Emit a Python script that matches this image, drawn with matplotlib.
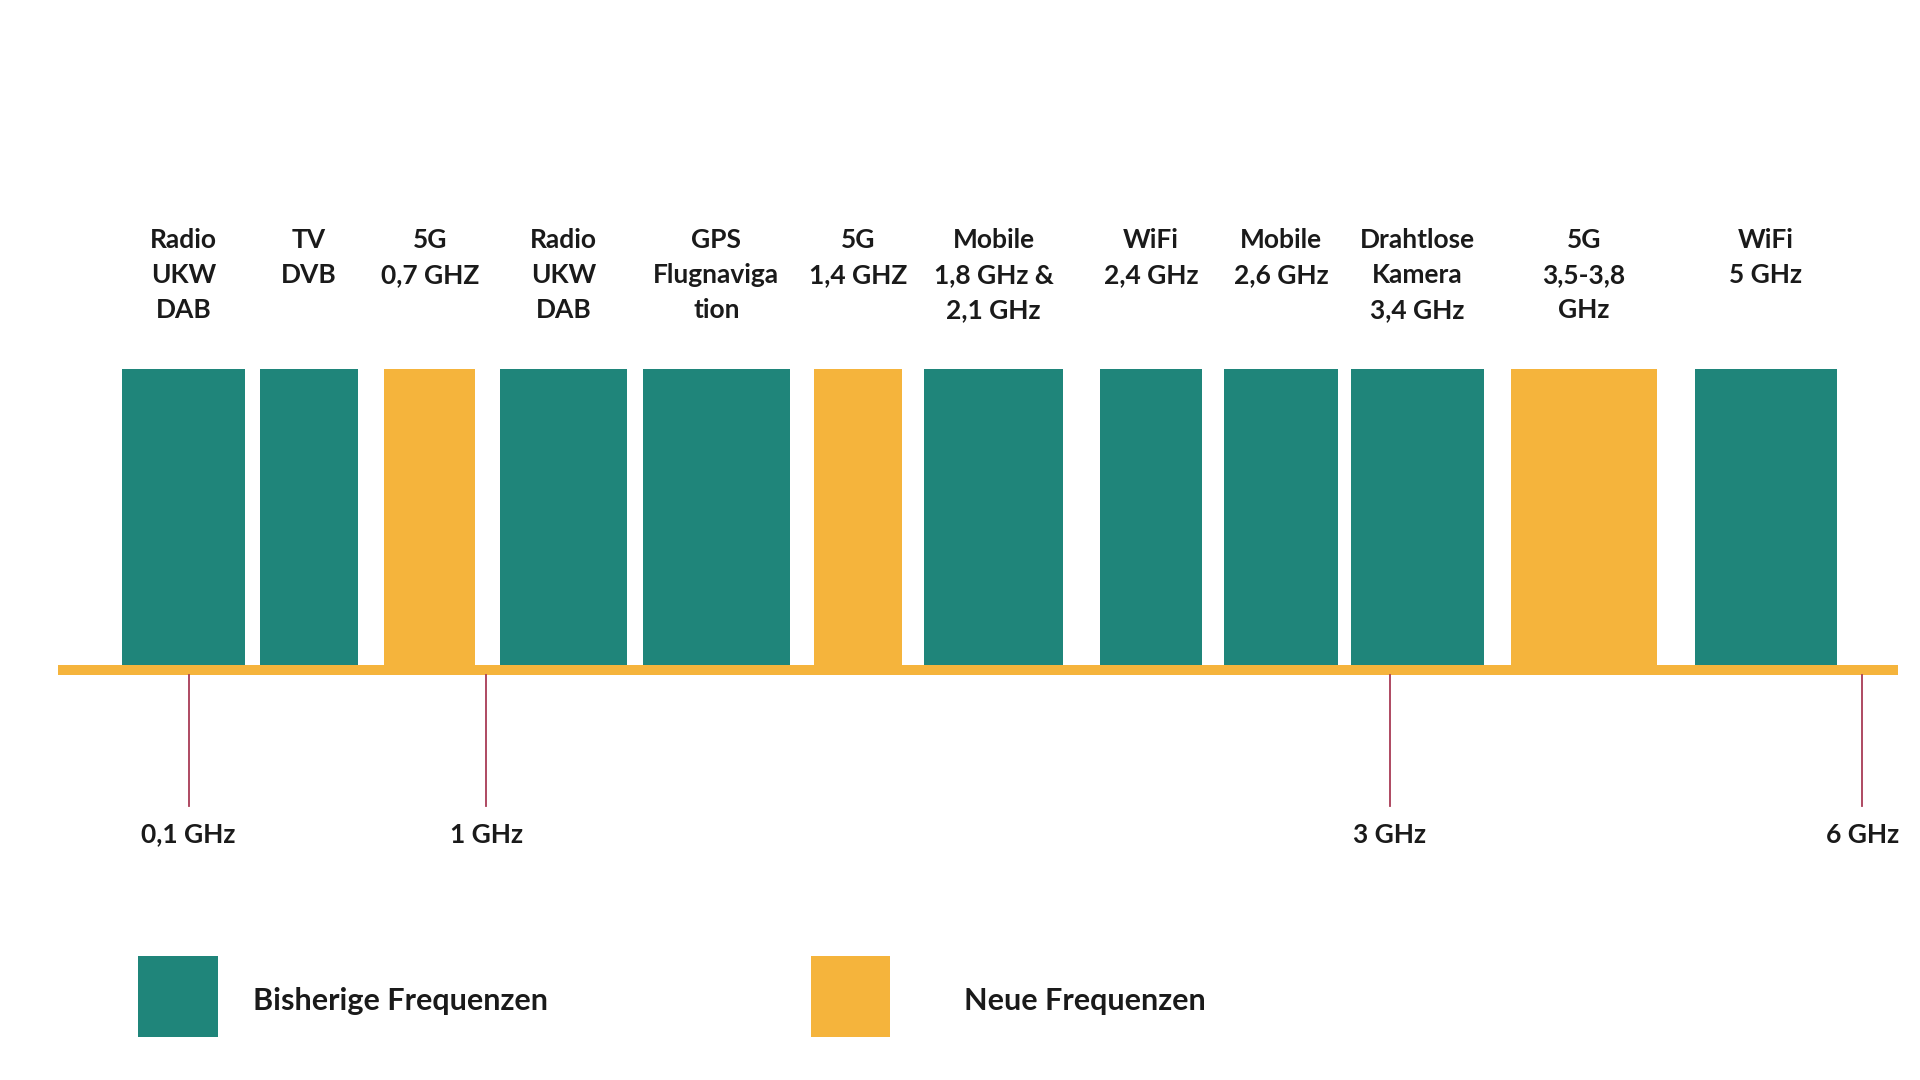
import matplotlib.pyplot as plt
from matplotlib.patches import Rectangle

# band labels, start/end on the drawing's spectrum axis, and type (new or existing)
labels = ["Radio\nUKW\nDAB", "TV\nDVB", "5G\n0,7 GHZ", "Radio\nUKW\nDAB", "GPS\nFlugnaviga\ntion",
          "5G\n1,4 GHZ", "Mobile\n1,8 GHz &\n2,1 GHz", "WiFi\n2,4 GHz", "Mobile\n2,6 GHz",
          "Drahtlose\nKamera\n3,4 GHz", "5G\n3,5-3,8\nGHz", "WiFi\n5 GHz"]
band_start = [100, 212, 314, 408, 525, 665, 755, 898, 1000, 1103, 1234, 1384]
band_end = [200, 292, 388, 512, 645, 737, 868, 982, 1093, 1212, 1353, 1500]
is_new = [False, False, True, False, False, True, False, False, False, False, True, False]
tick_pos = [154, 397, 1135, 1521]
tick_labels = ["0,1 GHz", "1 GHz", "3 GHz", "6 GHz"]

teal = "#1f857a"
orange = "#f5b43c"
plt.rcParams['font.family'] = ['Lato', 'DejaVu Sans']

fig = plt.figure(figsize=(19.2, 10.8), dpi=100)
ax = fig.add_axes([0, 0, 1, 1])
ax.set_xlim(0, 1568)
ax.set_ylim(880, 0)
ax.axis('off')

for s, e, new, lab in zip(band_start, band_end, is_new, labels):
    ax.add_patch(Rectangle((s, 301), e - s, 242, color=orange if new else teal, lw=0))
    ax.text((s + e) / 2, 186, lab, ha='center', va='top', fontsize=19, fontweight='bold',
            linespacing=1.55, color='#1a1a1a')

ax.add_patch(Rectangle((47, 542), 1503, 8, color=orange, lw=0))

for x, t in zip(tick_pos, tick_labels):
    ax.plot([x, x], [550, 657], color='#a83a55', lw=1.3)
    ax.text(x, 680, t, ha='center', va='center', fontsize=19, fontweight='bold', color='#1a1a1a')

ax.add_patch(Rectangle((113, 779), 65, 66, color=teal, lw=0))
ax.text(207, 816, "Bisherige Frequenzen", va='center', fontsize=22, fontweight='bold', color='#1a1a1a')
ax.add_patch(Rectangle((662, 779), 65, 66, color=orange, lw=0))
ax.text(787, 816, "Neue Frequenzen", va='center', fontsize=22, fontweight='bold', color='#1a1a1a')

fig.savefig("out.png", dpi=100)
